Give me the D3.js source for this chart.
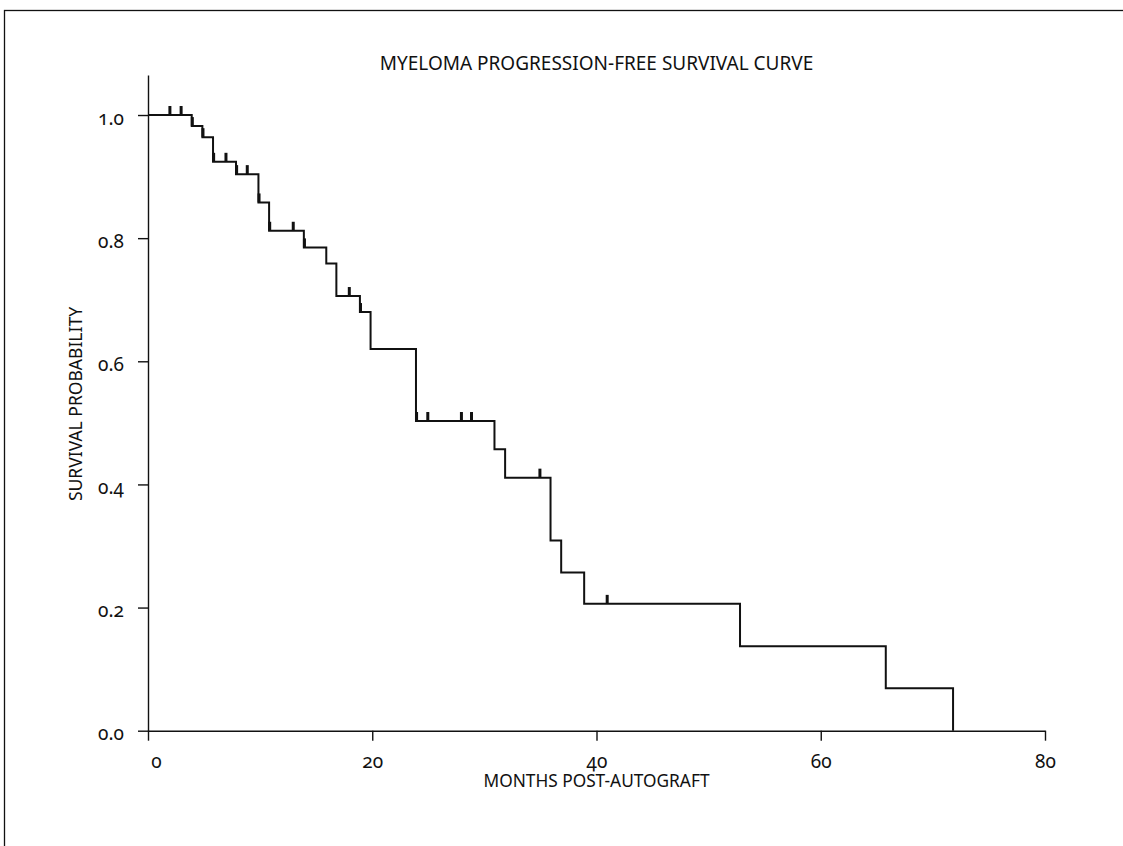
<!DOCTYPE html>
<html>
<head>
<meta charset="utf-8">
<script src="https://cdn.jsdelivr.net/npm/d3@7"></script>
<style>
    html, body { margin: 0; background: #fff; overflow: hidden; }
    svg { display: block; }
    text { font-family: "Noto Sans", "Open Sans", sans-serif; fill: #111; }
    .tick text { font-feature-settings: "onum" 1; font-variant-numeric: oldstyle-nums; }
</style>
</head>
<body>
<div id="chart-container"></div>
<script>
// event times (months) and survival after each drop
let eventTimes = [3.9, 4.85, 5.8, 7.85, 9.85, 10.8, 13.9, 15.9, 16.8, 18.9, 19.85, 23.9, 30.9, 31.85, 35.9, 36.85, 38.9, 52.8, 65.8, 71.8];
let survival = [0.982, 0.964, 0.924, 0.904, 0.858, 0.812, 0.785, 0.759, 0.706, 0.68, 0.62, 0.503, 0.457, 0.411, 0.309, 0.257, 0.206, 0.137, 0.069, 0];

// censored observations (months)
let censorTimes = [1.9, 2.9, 3.9, 4.85, 5.8, 6.9, 7.85, 8.8, 9.85, 10.8, 12.9, 13.9, 17.9, 18.9, 23.9, 24.9, 27.9, 28.8, 34.9, 40.9];

let xTicks = [0, 20, 40, 60, 80];
let yTicks = [0, 0.2, 0.4, 0.6, 0.8, 1.0];

let margin = {top: 75, right: 78, bottom: 115.3, left: 148};
let W = 1123, H = 846;

let svg = d3.select('#chart-container').append('svg')
    .attr('width', W)
    .attr('height', H);

// outer frame (runs off the right and bottom of the page)
svg.append('rect')
    .attr('x', 4.5)
    .attr('y', 10.5)
    .attr('width', 1300)
    .attr('height', 1000)
    .attr('fill', 'none')
    .attr('stroke', '#111')
    .attr('stroke-width', 1.3);

let x = d3.scaleLinear()
    .domain([0, 80])
    .range([margin.left, W - margin.right]);

let y = d3.scaleLinear()
    .domain([0, 1.065])
    .range([H - margin.bottom, margin.top]);

let xAxis = svg.append('g')
    .attr('transform', 'translate(0,' + y(0) + ')')
    .call(d3.axisBottom(x).tickValues(xTicks).tickSize(10).tickSizeOuter(0).tickFormat(d3.format('d')));

xAxis.selectAll('.tick text')
    .attr('y', 37.5)
    .attr('dy', 0)
    .attr('dx', function(d) { return d === 0 ? 8 : 0; })
    .style('font-size', '19px');

let yAxis = svg.append('g')
    .attr('transform', 'translate(' + x(0) + ',0)')
    .call(d3.axisLeft(y).tickValues(yTicks).tickSize(10).tickSizeOuter(0).tickFormat(d3.format('.1f')));

yAxis.selectAll('.tick text')
    .attr('x', -24)
    .attr('dy', '9px')
    .style('font-size', '19px');

svg.selectAll('.domain, .tick line')
    .attr('stroke', '#111')
    .attr('stroke-width', 1.4);
svg.selectAll('.tick text').attr('fill', '#111').style('font-family', '"Noto Sans", sans-serif');

// step function: start at 1.0 then drop at each event
let steps = [{t: 0, s: 1}].concat(eventTimes.map(function(t, i) { return {t: t, s: survival[i]}; }));

let line = d3.line()
    .x(function(d) { return x(d.t); })
    .y(function(d) { return y(d.s); })
    .curve(d3.curveStepAfter);

svg.append('path')
    .datum(steps)
    .attr('fill', 'none')
    .attr('stroke', '#111')
    .attr('stroke-width', 2)
    .attr('d', line);

function levelAt(t) {
    let s = 1;
    steps.forEach(function(d) { if (d.t <= t) s = d.s; });
    return s;
}

svg.selectAll('line.censor')
    .data(censorTimes)
    .enter().append('line')
    .attr('class', 'censor')
    .attr('x1', function(d) { return x(d) + 0.6; })
    .attr('x2', function(d) { return x(d) + 0.6; })
    .attr('y1', function(d) { return y(levelAt(d)); })
    .attr('y2', function(d) { return y(levelAt(d)) - 9; })
    .attr('stroke', '#111')
    .attr('stroke-width', 3);

svg.append('text')
    .attr('x', (x(0) + x(80)) / 2)
    .attr('y', 70)
    .attr('text-anchor', 'middle')
    .style('font-size', '19px')
    .text('MYELOMA PROGRESSION-FREE SURVIVAL CURVE');

svg.append('text')
    .attr('x', (x(0) + x(80)) / 2)
    .attr('y', 787)
    .attr('text-anchor', 'middle')
    .style('font-size', '17.3px')
    .text('MONTHS POST-AUTOGRAFT');

svg.append('text')
    .attr('transform', 'translate(81.5,404) rotate(-90)')
    .attr('text-anchor', 'middle')
    .style('font-size', '17.5px')
    .text('SURVIVAL PROBABILITY');
</script>
</body>
</html>
